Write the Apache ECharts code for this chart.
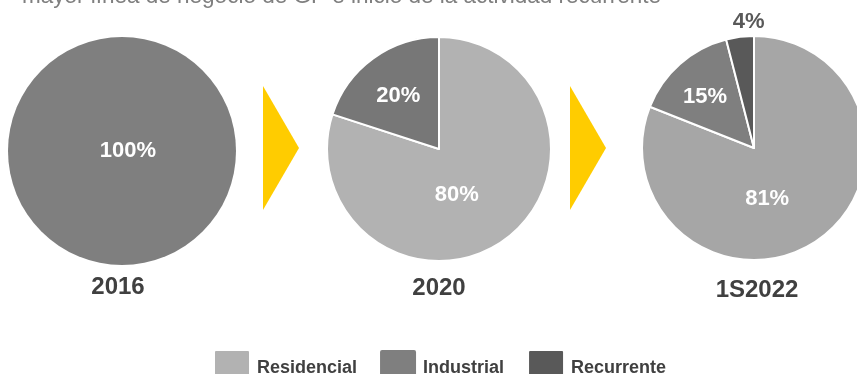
<!DOCTYPE html>
<html><head><meta charset="utf-8">
<script src="https://cdn.jsdelivr.net/npm/echarts@6/dist/echarts.min.js"></script>
<style>html,body{margin:0;padding:0;background:#fff;}#c{width:857px;height:374px;}</style>
</head><body><div id="c"></div>
<script>
var categories = ['Residencial', 'Industrial', 'Recurrente'];
var years = ['2016', '2020', '1S2022'];
var values2016 = [0, 100, 0];
var values2020 = [80, 20, 0];
var values1S2022 = [81, 15, 4];
var titleText = 'mayor línea de negocio de GP e inicio de la actividad recurrente';

var allValues = [values2016, values2020, values1S2022];
var centers = [[122, 151], [439, 149], [754, 148]];
var radii = [114, 112, 112];
var colorSets = [
  ['#b2b2b2', '#7f7f7f', '#595959'],
  ['#b2b2b2', '#777777', '#595959'],
  ['#a6a6a6', '#7f7f7f', '#595959']
];
var labelOffsets = [
  [[0, 0], [6, -60], [0, 0]],
  [[-17, -2], [-6, -5], [0, 0]],
  [[-20, 2], [-10, -7], [2, -68]]
];
var FONT = '"Liberation Sans", Arial, sans-serif';

var series = allValues.map(function (vals, si) {
  var data = [];
  vals.forEach(function (v, i) {
    if (v <= 0) return;
    var isSmall = v < 5;
    data.push({
      name: categories[i], value: v,
      itemStyle: { color: colorSets[si][i] },
      label: {
        offset: labelOffsets[si][i],
        color: isSmall ? '#595959' : '#ffffff'
      }
    });
  });
  return {
    type: 'pie', center: centers[si], radius: [0, radii[si]],
    startAngle: 90, clockwise: true, silent: true, animation: false,
    itemStyle: { borderColor: '#ffffff', borderWidth: data.length > 1 ? 2 : 0 },
    label: {
      show: true, position: 'inside', formatter: '{c}%',
      fontFamily: FONT, fontWeight: 'bold', fontSize: 22
    },
    labelLine: { show: false },
    emphasis: { disabled: true },
    data: data
  };
});

var graphics = [
  { type: 'polygon', shape: { points: [[263, 86], [299, 148], [263, 210]] }, style: { fill: '#ffcc00' } },
  { type: 'polygon', shape: { points: [[570, 86], [606, 148], [570, 210]] }, style: { fill: '#ffcc00' } },
  { type: 'text', x: 22, y: 8, style: { text: titleText, font: '22.5px ' + FONT, fill: '#7f7f7f', verticalAlign: 'bottom' } }
];
var yearX = [118, 439, 757];
var yearY = [287, 288, 290];
years.forEach(function (y, i) {
  graphics.push({
    type: 'text', x: yearX[i], y: yearY[i],
    style: { text: y, font: 'bold 24px ' + FONT, fill: '#404040', align: 'center', verticalAlign: 'middle' }
  });
});

var chart = echarts.init(document.getElementById('c'));
chart.setOption({
  animation: false,
  legend: {
    data: categories, left: 213, top: 349, padding: 0,
    itemWidth: 36, itemHeight: 36, itemGap: 23,
    icon: 'path://M2,0 L34,0 Q36,0 36,2 L36,34 Q36,36 34,36 L2,36 Q0,36 0,34 L0,2 Q0,0 2,0 Z',
    selectedMode: false,
    textStyle: { fontFamily: FONT, fontWeight: 'bold', fontSize: 18, color: '#404040', padding: [0, 0, 0, 2] }
  },
  series: series,
  graphic: graphics
});
</script>
</body></html>
